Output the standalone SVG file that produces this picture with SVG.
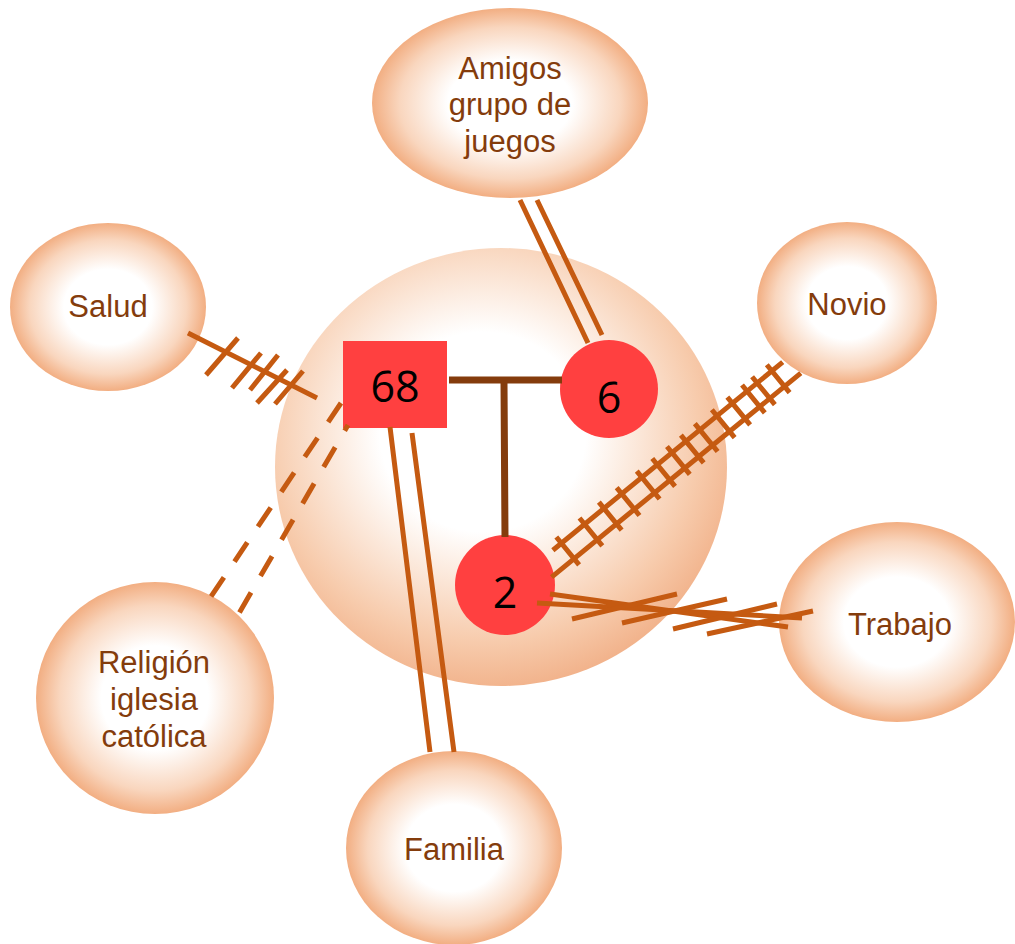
<svg xmlns="http://www.w3.org/2000/svg" width="1015" height="944" viewBox="0 0 1015 944">
  <defs>
    <radialGradient id="halo" cx="0.5" cy="0.5" r="0.5">
      <stop offset="0" stop-color="#FFFFFF"/>
      <stop offset="0.45" stop-color="#FFFFFF"/>
      <stop offset="0.8" stop-color="#F9D6BE"/>
      <stop offset="1" stop-color="#F2AE82"/>
    </radialGradient>
    <radialGradient id="core" cx="0.46" cy="0.42" r="0.6">
      <stop offset="0" stop-color="#FFFFFF"/>
      <stop offset="0.38" stop-color="#FFFFFF"/>
      <stop offset="0.8" stop-color="#F7CBAC"/>
      <stop offset="1" stop-color="#F1B088"/>
    </radialGradient>
    <style>
      .ring { fill: url(#halo); }
      .label { font-family: "Liberation Sans", Arial, sans-serif; font-size: 31px; fill: #843C0C; text-anchor: middle; }
      .red { fill: #FF4040; }
      .num { font-family: "Open Sans", "Noto Sans", sans-serif; font-size: 43px; fill: #000000; text-anchor: middle; }
      .tie { stroke: #C55A11; stroke-width: 5; fill: none; stroke-linecap: butt; }
      .dash { stroke-dasharray: 23 19; }
      .bond { stroke: #843C0C; stroke-width: 7; fill: none; }
    </style>
  </defs>

  <!-- surrounding systems -->
  <g id="entorno">
    <ellipse cx="501" cy="467" rx="226" ry="219" fill="url(#core)"/>
  </g>
  <g id="amigos">
    <ellipse class="ring" cx="510" cy="103" rx="138" ry="95"/>
    <text class="label" x="510" y="79">Amigos</text>
    <text class="label" x="510" y="115">grupo de</text>
    <text class="label" x="510" y="152">juegos</text>
  </g>
  <g id="salud">
    <ellipse class="ring" cx="108" cy="307" rx="98" ry="84"/>
    <text class="label" x="108" y="317">Salud</text>
  </g>
  <g id="novio">
    <ellipse class="ring" cx="847" cy="303" rx="90" ry="81"/>
    <text class="label" x="847" y="315">Novio</text>
  </g>
  <g id="trabajo">
    <ellipse class="ring" cx="897" cy="622" rx="118" ry="100"/>
    <text class="label" x="900" y="635">Trabajo</text>
  </g>
  <g id="religion">
    <ellipse class="ring" cx="155" cy="698" rx="119" ry="116"/>
    <text class="label" x="154" y="673">Religión</text>
    <text class="label" x="154" y="710">iglesia</text>
    <text class="label" x="154" y="747">católica</text>
  </g>
  <g id="familia">
    <ellipse class="ring" cx="454" cy="848" rx="108" ry="97"/>
    <text class="label" x="454" y="860">Familia</text>
  </g>

  <!-- household members -->
  <g id="p68">
    <rect class="red" x="343" y="341" width="104" height="87"/>
    <text class="num" x="395" y="402">68</text>
  </g>
  <g id="p6">
    <circle class="red" cx="609" cy="389" r="49"/>
    <text class="num" x="609" y="413">6</text>
  </g>
  <g id="p2">
    <circle class="red" cx="505" cy="585" r="50"/>
    <text class="num" x="505" y="608">2</text>
  </g>

  <g id="connectors">
    <!-- family bond -->
    <path class="bond" d="M449 380 H562 M504 383 L505 537"/>

    <!-- strong ties: double lines -->
    <path class="tie" d="M520 200 L588 343 M537 200 L602 335"/>
    <path class="tie" d="M390 427 L430 752 M412 433 L454 752"/>

    <!-- weak ties: dashed double line -->
    <path class="tie dash" d="M341 403 L208 601"/>
    <path class="tie dash" d="M348 425 L238 615" stroke-dashoffset="16.4"/>

    <!-- stressful tie -->
    <path class="tie" d="M188 333 L317 398 M238 338 L206 375 M261 353 L232 388 M278 355 L250 390 M287 370 L257 403 M303 371 L275 404"/>

    <!-- conflictive strong tie -->
    <g transform="translate(553 563) rotate(-39.3)">
      <path class="tie" d="M8 -10 H305 M-10 10 H312"/>
      <path class="tie" d="M19 -18 V18 M49 -18 V18 M74 -18 V18 M97 -18 V18 M123 -18 V18 M143 -18 V18 M162 -18 V18 M180 -18 V18 M198 -18 V18 M220 -18 V18 M240 -18 V18 M259 -18 V18 M272 -18 V18 M291 -18 V18"/>
    </g>

    <!-- ambivalent tie -->
    <path class="tie" d="M550 594 L788 627 M537 603 L802 618"/>
    <path class="tie" d="M572 619 L677 594 M622 623 L727 599 M673 629 L777 604 M707 634 L813 611"/>
  </g>
</svg>
